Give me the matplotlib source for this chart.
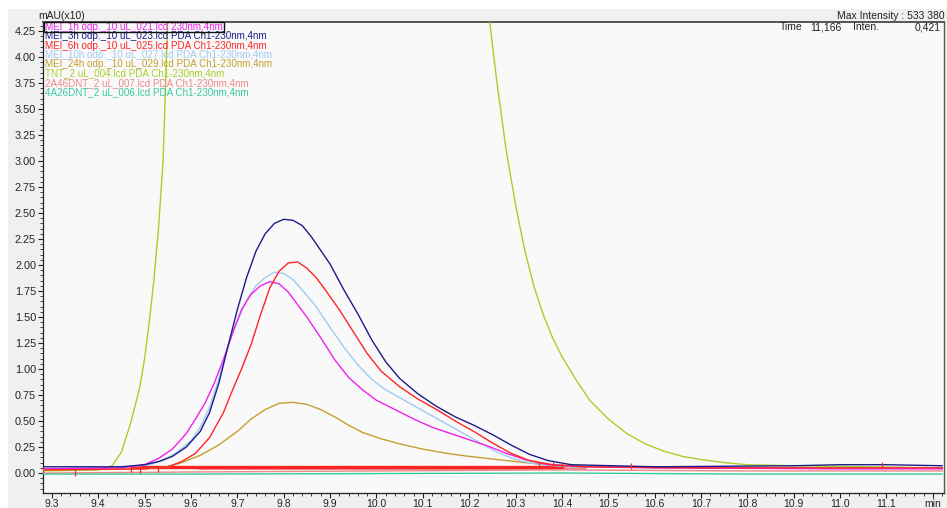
"""Chromatogram overlay (PDA Ch1-230nm) redrawn with matplotlib."""
import matplotlib
matplotlib.use("Agg")
import matplotlib.pyplot as plt
from matplotlib.patches import Rectangle
from matplotlib.ticker import FixedLocator, MultipleLocator

plt.rcParams["font.family"] = ["Liberation Sans", "DejaVu Sans"]

# ---- data (time in min, signal in mAU x10) ----
names = [
    "MEI_1h odp._10 uL_021.lcd 230nm,4nm",
    "MEI_3h odp._10 uL_023.lcd PDA Ch1-230nm,4nm",
    "MEI_6h odp._10 uL_025.lcd PDA Ch1-230nm,4nm",
    "MEI_10h odp._10 uL_027.lcd PDA Ch1-230nm,4nm",
    "MEI_24h odp._10 uL_029.lcd PDA Ch1-230nm,4nm",
    "TNT_2 uL_004.lcd PDA Ch1-230nm,4nm",
    "2A46DNT_2 uL_007.lcd PDA Ch1-230nm,4nm",
    "4A26DNT_2 uL_006.lcd PDA Ch1-230nm,4nm",
]
colors = ["#ee22ee", "#1c1c8a", "#ff2424", "#9fcbf0",
          "#c4a030", "#a8d028", "#f08888", "#38c8a0"]

t_1h = [9.28, 9.45, 9.50, 9.53, 9.56, 9.59, 9.61, 9.63, 9.65, 9.67, 9.69, 9.71,
        9.73, 9.75, 9.77, 9.79, 9.81, 9.83, 9.85, 9.88, 9.91, 9.94, 9.97, 10.00,
        10.04, 10.08, 10.12, 10.16, 10.20, 10.24, 10.28, 10.32, 10.37, 10.45,
        10.6, 11.0, 11.22]
s_1h = [0.04, 0.05, 0.08, 0.14, 0.23, 0.38, 0.52, 0.67, 0.86, 1.09, 1.35, 1.58,
        1.72, 1.80, 1.84, 1.82, 1.74, 1.62, 1.50, 1.30, 1.09, 0.92, 0.80, 0.70,
        0.61, 0.52, 0.44, 0.38, 0.32, 0.26, 0.19, 0.13, 0.08, 0.06,
        0.05, 0.04, 0.04]

t_3h = [9.28, 9.45, 9.50, 9.53, 9.56, 9.59, 9.62, 9.64, 9.66, 9.68, 9.70, 9.72,
        9.74, 9.76, 9.78, 9.80, 9.82, 9.84, 9.86, 9.88, 9.90, 9.93, 9.96, 9.99,
        10.02, 10.05, 10.09, 10.13, 10.17, 10.21, 10.25, 10.29, 10.33, 10.37,
        10.42, 10.6, 10.9, 11.0, 11.1, 11.22]
s_3h = [0.06, 0.06, 0.08, 0.11, 0.16, 0.25, 0.40, 0.58, 0.86, 1.22, 1.57, 1.88,
        2.13, 2.30, 2.40, 2.44, 2.43, 2.38, 2.27, 2.14, 2.01, 1.76, 1.53, 1.28,
        1.07, 0.91, 0.76, 0.64, 0.54, 0.46, 0.37, 0.27, 0.18, 0.12,
        0.08, 0.06, 0.07, 0.08, 0.08, 0.07]

t_6h = [9.28, 9.50, 9.55, 9.58, 9.61, 9.64, 9.67, 9.69, 9.71, 9.73, 9.75, 9.77,
        9.79, 9.81, 9.83, 9.85, 9.87, 9.89, 9.92, 9.95, 9.98, 10.01, 10.05, 10.09,
        10.13, 10.17, 10.21, 10.25, 10.29, 10.33, 10.38, 10.45, 10.7, 11.22]
s_6h = [0.03, 0.04, 0.06, 0.11, 0.19, 0.34, 0.58, 0.80, 1.01, 1.24, 1.52, 1.78,
        1.94, 2.02, 2.03, 1.97, 1.88, 1.76, 1.57, 1.36, 1.15, 0.98, 0.83, 0.71,
        0.61, 0.50, 0.40, 0.29, 0.19, 0.12, 0.08, 0.06, 0.05, 0.05]

t_10h = [9.28, 9.45, 9.51, 9.54, 9.57, 9.60, 9.62, 9.64, 9.66, 9.68, 9.70, 9.72,
         9.74, 9.76, 9.78, 9.80, 9.82, 9.84, 9.87, 9.90, 9.93, 9.96, 9.99, 10.02,
         10.06, 10.10, 10.14, 10.18, 10.22, 10.26, 10.30, 10.35, 10.42, 10.8, 11.22]
s_10h = [0.04, 0.05, 0.08, 0.12, 0.20, 0.31, 0.44, 0.63, 0.90, 1.22, 1.46, 1.66,
         1.80, 1.88, 1.93, 1.92, 1.86, 1.76, 1.60, 1.40, 1.21, 1.04, 0.90, 0.80,
         0.70, 0.60, 0.50, 0.40, 0.30, 0.20, 0.13, 0.08, 0.06, 0.05, 0.05]

t_24h = [9.28, 9.50, 9.55, 9.58, 9.62, 9.66, 9.70, 9.73, 9.76, 9.79, 9.82, 9.85,
         9.88, 9.91, 9.94, 9.97, 10.01, 10.05, 10.10, 10.15, 10.20, 10.26, 10.32,
         10.40, 10.6, 11.22]
s_24h = [0.03, 0.04, 0.06, 0.10, 0.17, 0.27, 0.40, 0.52, 0.61, 0.67, 0.68, 0.66,
         0.61, 0.54, 0.46, 0.39, 0.33, 0.28, 0.23, 0.19, 0.16, 0.13, 0.10,
         0.07, 0.05, 0.05]

# TNT goes far off scale (max ~53 mAU x10)
t_tnt = [9.28, 9.40, 9.43, 9.45, 9.47, 9.49, 9.50, 9.51, 9.52, 9.53, 9.54, 9.55,
         9.56, 9.60, 9.75, 9.90, 10.05, 10.20, 10.24, 10.26, 10.28, 10.30, 10.32,
         10.34, 10.36, 10.38, 10.40, 10.43, 10.46, 10.50, 10.54, 10.58, 10.62,
         10.66, 10.70, 10.75, 10.80, 10.90, 11.22]
s_tnt = [0.02, 0.03, 0.07, 0.20, 0.48, 0.83, 1.10, 1.45, 1.85, 2.35, 3.00, 4.40,
         6.0, 15.0, 45.0, 53.3, 40.0, 8.0, 4.50, 3.75, 3.10, 2.58, 2.14,
         1.79, 1.52, 1.30, 1.12, 0.90, 0.70, 0.52, 0.38, 0.28, 0.21,
         0.16, 0.13, 0.10, 0.08, 0.07, 0.05]

t_2a = [9.28, 9.6, 10.0, 10.4, 10.8, 11.22]
s_2a = [0.00, 0.01, 0.02, 0.03, 0.02, 0.02]

t_4a = [9.28, 9.6, 10.0, 10.4, 10.8, 11.22]
s_4a = [-0.01, -0.01, -0.005, 0.0, -0.01, -0.01]

# integration baselines drawn by the software (thick red / salmon bands)
band_red_t = [9.47, 10.40]
band_red_s = [0.055, 0.055]
band_salmon_t = [9.62, 10.45]
band_salmon_s = [0.045, 0.045]

# small peak markers on the baseline
mark_t = [9.35, 9.47, 9.49, 9.53, 10.35, 10.38, 10.40, 10.55, 11.09]
mark_s = [0.0, 0.04, 0.03, 0.04, 0.08, 0.08, 0.08, 0.07, 0.08]

xtick_vals = [9.3, 9.4, 9.5, 9.6, 9.7, 9.8, 9.9, 10.0, 10.1, 10.2, 10.3,
              10.4, 10.5, 10.6, 10.7, 10.8, 10.9, 11.0, 11.1, 11.2]
xtick_labels = ["9.3", "9.4", "9.5", "9.6", "9.7", "9.8", "9.9", "10.0", "10.1", "10.2",
                "10.3", "10.4", "10.5", "10.6", "10.7", "10.8", "10.9", "11.0", "11.1", "min"]
ytick_vals = [0.0, 0.25, 0.5, 0.75, 1.0, 1.25, 1.5, 1.75, 2.0, 2.25, 2.5,
              2.75, 3.0, 3.25, 3.5, 3.75, 4.0, 4.25]

W, H = 947, 508
fig = plt.figure(figsize=(W / 100, H / 100), dpi=100, facecolor="white")

# grey window panel behind the plot
fig.patches.append(Rectangle((8 / W, 0), 1, 1 - 9 / H, transform=fig.transFigure,
                             facecolor="#f0f0f0", edgecolor="none", zorder=-10))

ax = fig.add_axes([43 / W, 15 / H, (944 - 43) / W, (493 - 22) / H])
ax.set_facecolor("#f9f9f9")

series = [(t_1h, s_1h), (t_3h, s_3h), (t_6h, s_6h), (t_10h, s_10h),
          (t_24h, s_24h), (t_tnt, s_tnt), (t_2a, s_2a), (t_4a, s_4a)]
draw_order = [6, 7, 5, 4, 3, 0, 2, 1]
for i in draw_order:
    t, s = series[i]
    ax.plot(t, s, color=colors[i], lw=1.0, zorder=3 + draw_order.index(i))

ax.plot(band_salmon_t, band_salmon_s, color=colors[6], lw=2.0, zorder=2.5)
ax.plot(band_red_t, band_red_s, color=colors[2], lw=2.4, zorder=2.6)
ax.plot(mark_t, mark_s, ls="none", marker="|", ms=5, mew=0.9, color=colors[2], zorder=12)

ax.set_xlim(9.281, 11.224)
ax.set_ylim(-0.192, 4.337)

ax.xaxis.set_major_locator(FixedLocator(xtick_vals))
ax.set_xticklabels(xtick_labels)
ax.xaxis.set_minor_locator(MultipleLocator(0.02))
ax.yaxis.set_major_locator(FixedLocator(ytick_vals))
ax.set_yticklabels([f"{v:.2f}" for v in ytick_vals])
ax.yaxis.set_minor_locator(MultipleLocator(0.05))

ax.tick_params(which="major", direction="out", length=3.5, width=0.8,
               labelsize=7.5, pad=1, colors="#222222")
ax.tick_params(axis="y", which="major", labelsize=7.8, pad=1.5)
ax.tick_params(which="minor", direction="out", length=2, width=0.6, colors="#222222")

for side in ["left", "bottom"]:
    ax.spines[side].set_color("#222222")
    ax.spines[side].set_linewidth(0.9)
ax.spines["top"].set_color("#555555")
ax.spines["top"].set_linewidth(1.4)
ax.spines["right"].set_color("#555555")
ax.spines["right"].set_linewidth(1.0)

# legend as coloured text lines in the top-left corner
for k, (name, c) in enumerate(zip(names, colors)):
    fig.text(45 / W, 1 - (27 + 9.3 * k) / H, name, color=c, fontsize=7.1,
             va="center", ha="left")
fig.patches.append(Rectangle((44 / W, 1 - 32 / H), (224 - 44) / W, 10 / H,
                             transform=fig.transFigure, facecolor="none",
                             edgecolor="#111111", lw=1.0, zorder=20))

fig.text(38 / W, 1 - 16 / H, "mAU(x10)", fontsize=7.5, color="#222222", va="center")
fig.text(945 / W, 1 - 16 / H, "Max Intensity : 533 380", fontsize=7.5,
         color="#222222", va="center", ha="right")
fig.text(780 / W, 1 - 27 / H, "Time", fontsize=7.5, color="#222222", va="center")
fig.text(810 / W, 1 - 27 / H, "11,166", fontsize=7.5, color="#222222", va="center")
fig.text(853 / W, 1 - 27 / H, "Inten.", fontsize=7.5, color="#222222", va="center")
fig.text(941 / W, 1 - 27 / H, "0,421", fontsize=7.5, color="#222222",
         va="center", ha="right")

fig.savefig("out.png", dpi=100, facecolor=fig.get_facecolor())
